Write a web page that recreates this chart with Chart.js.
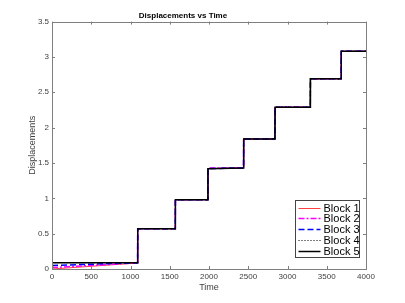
<!DOCTYPE html>
<html>
<head>
<meta charset="utf-8">
<script src="https://cdn.jsdelivr.net/npm/chart.js@4.4.1/dist/chart.umd.min.js"></script>
<style>
  html, body { margin: 0; padding: 0; background: #fff; }
  #wrap { width: 405px; height: 303px; }
</style>
</head>
<body>
<div id="wrap"><canvas id="disp"></canvas></div>
<script>
// time samples (step edges)
var times = [0, 1090, 1092, 1570, 1572, 1985, 1987, 2440, 2442, 2840, 2842, 3290, 3292, 3683, 3685, 4000];

var block1 = [0.00, 0.085, 0.57, 0.57, 0.98, 0.98, 1.42, 1.43, 1.84, 1.84, 2.29, 2.29, 2.69, 2.69, 3.08, 3.08];
var block2 = [0.02, 0.087, 0.57, 0.57, 0.98, 0.98, 1.43, 1.43, 1.84, 1.84, 2.29, 2.29, 2.69, 2.69, 3.08, 3.08];
var block3 = [0.05, 0.088, 0.57, 0.57, 0.98, 0.98, 1.42, 1.43, 1.84, 1.84, 2.29, 2.29, 2.69, 2.69, 3.08, 3.08];
var block4 = [0.09, 0.09, 0.57, 0.57, 0.98, 0.98, 1.42, 1.43, 1.84, 1.84, 2.29, 2.29, 2.69, 2.69, 3.08, 3.08];
var block5 = [0.09, 0.09, 0.57, 0.57, 0.98, 0.98, 1.42, 1.43, 1.84, 1.84, 2.29, 2.29, 2.69, 2.69, 3.08, 3.08];

var labels = ["Block 1", "Block 2", "Block 3", "Block 4", "Block 5"];
var colors = ["#ff4040", "#ff00ff", "#0000ff", "#000000", "#000000"];
var dashes = [[], [6, 2, 2, 2], [6, 3], [1, 2], []];
var widths = [1, 1.5, 1.5, 1, 1.5];

var xTicks = [0, 500, 1000, 1500, 2000, 2500, 3000, 3500, 4000];
var yTicks = [0, 0.5, 1, 1.5, 2, 2.5, 3, 3.5];

var series = [block1, block2, block3, block4, block5];

function pts(arr){
  return arr.map(function(v, i){ return {x: times[i], y: v}; });
}

var datasets = series.map(function(s, i){
  return {
    label: labels[i],
    data: pts(s),
    borderColor: colors[i],
    borderWidth: widths[i],
    borderDash: dashes[i],
    pointRadius: 0,
    fill: false,
    tension: 0,
    order: series.length - i   // later blocks on top
  };
});

var axisColor = "#7f7f7f";
var tickFont = { family: "'Liberation Sans', Arial, sans-serif", size: 8 };

// matlab style box with inward ticks + legend inside the axes
var boxPlugin = {
  id: "box",
  afterDraw: function(chart){
    var ctx = chart.ctx, a = chart.chartArea;
    var xs = chart.scales.x, ys = chart.scales.y;
    ctx.save();
    ctx.strokeStyle = axisColor;
    ctx.lineWidth = 1;
    ctx.strokeRect(Math.round(a.left) + 0.5, Math.round(a.top) + 0.5,
      Math.round(a.right - a.left), Math.round(a.bottom - a.top));
    ctx.beginPath();
    xTicks.forEach(function(t){
      var px = Math.round(xs.getPixelForValue(t)) + 0.5;
      ctx.moveTo(px, a.bottom); ctx.lineTo(px, a.bottom - 3);
      ctx.moveTo(px, a.top); ctx.lineTo(px, a.top + 3);
    });
    yTicks.forEach(function(t){
      var py = Math.round(ys.getPixelForValue(t)) + 0.5;
      ctx.moveTo(a.left, py); ctx.lineTo(a.left + 3, py);
      ctx.moveTo(a.right, py); ctx.lineTo(a.right - 3, py);
    });
    ctx.stroke();

    // legend
    var bw = 64, bh = 57;
    var bx = Math.round(a.right) - 71 + 0.5, by = Math.round(a.bottom) - 69 + 0.5;
    ctx.fillStyle = "#fff";
    ctx.fillRect(bx, by, bw, bh);
    ctx.strokeStyle = "#444";
    ctx.strokeRect(bx, by, bw, bh);
    ctx.font = "11px 'Liberation Sans', Arial, sans-serif";
    ctx.textBaseline = "middle";
    labels.forEach(function(lab, i){
      var ds = chart.data.datasets[i];
      var yy = Math.round(by + 7 + i * 10.8) + 0.5;
      ctx.beginPath();
      ctx.strokeStyle = ds.borderColor;
      ctx.lineWidth = ds.borderWidth;
      ctx.setLineDash(ds.borderDash);
      ctx.moveTo(bx + 3, yy); ctx.lineTo(bx + 25, yy);
      ctx.stroke();
      ctx.setLineDash([]);
      ctx.fillStyle = "#000";
      ctx.fillText(lab, bx + 28, yy);
    });
    ctx.restore();
  }
};

new Chart("disp", {
  type: "line",
  data: { datasets: datasets },
  plugins: [boxPlugin],
  options: {
    responsive: true,
    maintainAspectRatio: false,
    animation: false,
    layout: { padding: { left: 0, right: 39, top: 8, bottom: 8 } },
    plugins: {
      legend: { display: false },
      tooltip: { enabled: false },
      title: {
        display: true,
        text: "Displacements vs Time",
        color: "#000",
        font: { family: "'Liberation Sans', Arial, sans-serif", size: 8, weight: "bold" },
        padding: { top: 3, bottom: 1 }
      }
    },
    scales: {
      x: {
        type: "linear",
        min: 0, max: 4000,
        afterBuildTicks: function(s){ s.ticks = xTicks.map(function(v){ return {value: v}; }); },
        afterFit: function(s){ s.height = 26; },
        grid: { display: false, drawTicks: false },
        border: { display: false },
        ticks: { color: "#404040", padding: 3, maxRotation: 0, font: tickFont,
          callback: function(v){ return String(v); } },
        title: { display: true, text: "Time", color: "#404040", padding: { top: 0, bottom: 2 },
          font: { family: "'Liberation Sans', Arial, sans-serif", size: 9 } }
      },
      y: {
        min: 0, max: 3.5,
        afterBuildTicks: function(s){ s.ticks = yTicks.map(function(v){ return {value: v}; }); },
        afterFit: function(s){ s.width = 52; },
        grid: { display: false, drawTicks: false },
        border: { display: false },
        ticks: { color: "#404040", padding: 3, font: tickFont,
          callback: function(v){ return String(v); } },
        title: { display: true, text: "Displacements", color: "#404040", padding: { top: 27, bottom: 0 },
          font: { family: "'Liberation Sans', Arial, sans-serif", size: 9 } }
      }
    }
  }
});
</script>
</body>
</html>
